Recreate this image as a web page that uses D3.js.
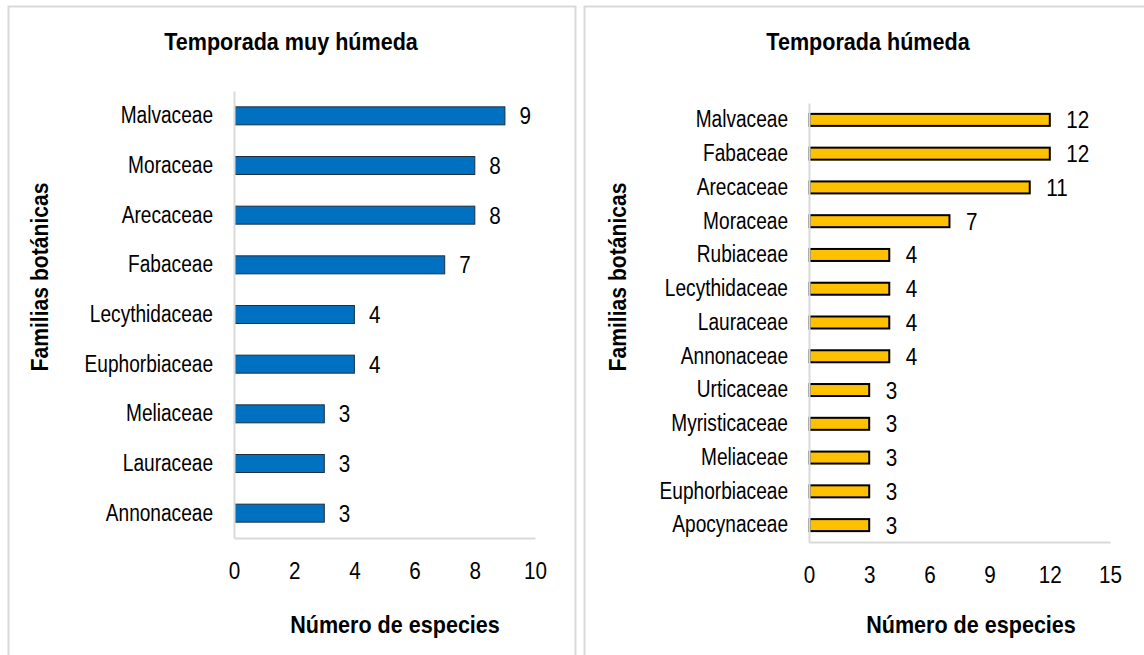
<!DOCTYPE html>
<html>
<head>
<meta charset="utf-8">
<script src="https://cdn.jsdelivr.net/npm/d3@7"></script>
<style>
  html, body { margin: 0; padding: 0; background: #fff; }
  svg { display: block; font-family: "Liberation Sans", Arial, sans-serif; }
</style>
</head>
<body>
<svg id="chart" width="1144" height="655"></svg>
<script>
// ---- Data ----
const leftCategories = ["Malvaceae", "Moraceae", "Arecaceae", "Fabaceae", "Lecythidaceae", "Euphorbiaceae", "Meliaceae", "Lauraceae", "Annonaceae"];
const leftValues = [9, 8, 8, 7, 4, 4, 3, 3, 3];
const leftTicks = [0, 2, 4, 6, 8, 10];
const leftTitle = "Temporada muy húmeda";

const rightCategories = ["Malvaceae", "Fabaceae", "Arecaceae", "Moraceae", "Rubiaceae", "Lecythidaceae", "Lauraceae", "Annonaceae", "Urticaceae", "Myristicaceae", "Meliaceae", "Euphorbiaceae", "Apocynaceae"];
const rightValues = [12, 12, 11, 7, 4, 4, 4, 4, 3, 3, 3, 3, 3];
const rightTicks = [0, 3, 6, 9, 12, 15];
const rightTitle = "Temporada húmeda";

const xAxisTitle = "Número de especies";
const yAxisTitle = "Familias botánicas";

const svg = d3.select("#chart");
const TXT = "#000";

function panel(cfg) {
  const g = svg.append("g");
  // panel border
  g.append("rect")
    .attr("x", cfg.px).attr("y", 6.5)
    .attr("width", cfg.pw).attr("height", 720)
    .attr("fill", "#fff").attr("stroke", "#d9d9d9").attr("stroke-width", 2);

  const x = d3.scaleLinear().domain([cfg.ticks[0], cfg.ticks[cfg.ticks.length - 1]]).range([cfg.x0, cfg.x1]);
  const step = (cfg.y1 - cfg.y0) / cfg.cats.length;
  const pin = 1 - cfg.barH / step;
  const y = d3.scaleBand().domain(cfg.cats).range([cfg.y0, cfg.y1]).paddingInner(pin).paddingOuter(pin / 2);

  // bars
  g.selectAll("rect.bar").data(cfg.cats).enter().append("rect")
    .attr("class", "bar")
    .attr("x", x(0) + 0.5)
    .attr("y", d => y(d))
    .attr("width", (d, i) => x(cfg.vals[i]) - x(0) - 0.5)
    .attr("height", y.bandwidth())
    .attr("fill", cfg.fill).attr("stroke", cfg.stroke).attr("stroke-width", cfg.sw);

  // value labels
  g.selectAll("text.val").data(cfg.cats).enter().append("text")
    .attr("class", "val")
    .attr("x", (d, i) => x(cfg.vals[i]) + cfg.valGap)
    .attr("y", d => y(d) + y.bandwidth() / 2 + 8.5)
    .attr("font-size", 24).attr("fill", TXT).attr("data-sx", 0.86)
    .text((d, i) => cfg.vals[i]);

  // y axis
  const ya = g.append("g").attr("transform", `translate(${cfg.x0},0)`)
    .call(d3.axisLeft(y).tickSize(0).tickPadding(21));
  ya.select(".domain").attr("stroke", "#d9d9d9").attr("stroke-width", 2);
  ya.selectAll("text").attr("font-size", 23).attr("fill", TXT).attr("font-family", null).attr("data-sx", 0.83);

  // x axis
  const xa = g.append("g").attr("transform", `translate(0,${cfg.y1})`)
    .call(d3.axisBottom(x).tickValues(cfg.ticks).tickSize(0).tickPadding(24));
  xa.select(".domain").attr("stroke", "#d9d9d9").attr("stroke-width", 2);
  xa.selectAll("text").attr("font-size", 24).attr("fill", TXT).attr("font-family", null).attr("data-sx", 0.86);

  // chart title
  g.append("text").attr("x", cfg.titleX).attr("y", 50)
    .attr("text-anchor", "middle").attr("font-size", 24.5).attr("font-weight", "bold").attr("fill", TXT)
    .attr("data-sx", 0.88).text(cfg.title);
  // x axis title
  g.append("text").attr("x", cfg.xtX).attr("y", 633)
    .attr("text-anchor", "middle").attr("font-size", 24.5).attr("font-weight", "bold").attr("fill", TXT)
    .attr("data-sx", 0.88).text(xAxisTitle);
  // y axis title
  g.append("text").attr("transform", `translate(${cfg.ytX},277) rotate(-90)`)
    .attr("text-anchor", "middle").attr("font-size", 24).attr("font-weight", "bold").attr("fill", TXT)
    .attr("data-sx", 0.88).text(yAxisTitle);
}

panel({
  px: 8.5, pw: 567,
  cats: leftCategories, vals: leftValues, ticks: leftTicks, title: leftTitle,
  x0: 234, x1: 535, y0: 91, y1: 538, barH: 18,
  fill: "#0070C0", stroke: "#1f2f40", sw: 1, valGap: 14.5,
  titleX: 291, xtX: 395, ytX: 48
});

panel({
  px: 584.5, pw: 600,
  cats: rightCategories, vals: rightValues, ticks: rightTicks, title: rightTitle,
  x0: 809, x1: 1110, y0: 103, y1: 542, barH: 12,
  fill: "#FFC000", stroke: "#000", sw: 2, valGap: 16.5,
  titleX: 868, xtX: 971, ytX: 626
});

// condensed (narrow) glyphs, as in the reference
svg.selectAll("text").each(function () {
  const sx = +(this.getAttribute("data-sx") || 0.9);
  const L = this.getComputedTextLength();
  d3.select(this).attr("textLength", L * sx).attr("lengthAdjust", "spacingAndGlyphs");
});
</script>
</body>
</html>
